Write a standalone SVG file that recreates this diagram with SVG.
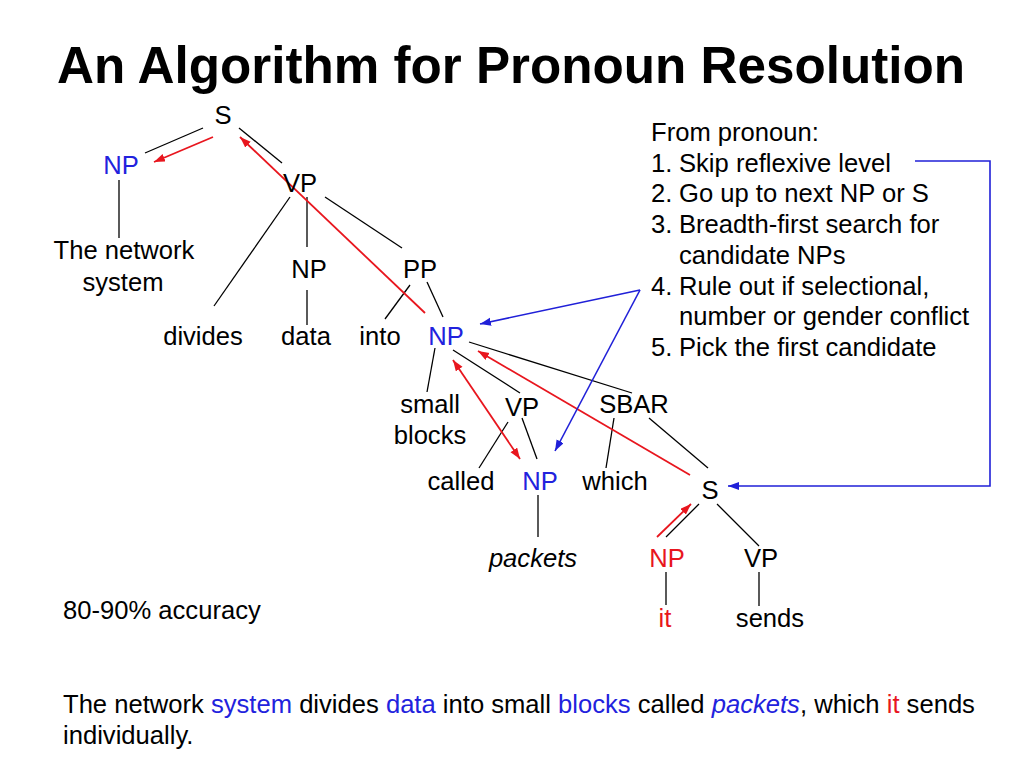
<svg xmlns="http://www.w3.org/2000/svg" width="1024" height="768" viewBox="0 0 1024 768">
<defs>
<style>
text{font-family:"Liberation Sans",Arial,Helvetica,sans-serif;font-size:25.6px;fill:#000}
.c{text-anchor:middle}
.title{font-size:51.2px;font-weight:bold}
.b{fill:#2222dd}
.r{fill:#e8161e}
.i{font-style:italic}
.e{stroke:#000;stroke-width:1.3;fill:none}
.ra{stroke:#e8161e;stroke-width:1.8;fill:none;marker-end:url(#mr)}
.ba{stroke:#2020d8;stroke-width:1.6;fill:none;marker-end:url(#mb)}
</style>
<marker id="mr" markerUnits="userSpaceOnUse" markerWidth="12" markerHeight="10" refX="11" refY="4" orient="auto-start-reverse"><path d="M0,0 L11,4 L0,8 z" fill="#e8161e"/></marker>
<marker id="mb" markerUnits="userSpaceOnUse" markerWidth="12" markerHeight="10" refX="11" refY="4" orient="auto-start-reverse"><path d="M0,0 L11,4 L0,8 z" fill="#2020d8"/></marker>
</defs>
<rect width="1024" height="768" fill="#fff"/>
<text id="title" class="title" x="57" y="83">An Algorithm for Pronoun Resolution</text>

<g id="connectors">
<line class="e" x1="145" y1="153" x2="203" y2="128"/>
<line class="e" x1="239" y1="128" x2="282" y2="163"/>
<line class="e" x1="119" y1="180" x2="119" y2="238"/>
<line class="e" x1="290" y1="197" x2="214" y2="306"/>
<line class="e" x1="307" y1="197" x2="307" y2="247"/>
<line class="e" x1="325" y1="197" x2="402" y2="248"/>
<line class="e" x1="307" y1="290" x2="307" y2="325"/>
<line class="e" x1="410" y1="285" x2="385" y2="319"/>
<line class="e" x1="427" y1="282" x2="443" y2="317"/>
<line class="e" x1="435" y1="348" x2="427" y2="392"/>
<line class="e" x1="453" y1="350" x2="520" y2="393"/>
<line class="e" x1="469" y1="342" x2="632" y2="393"/>
<line class="e" x1="508" y1="422" x2="479" y2="468"/>
<line class="e" x1="522" y1="418" x2="537" y2="459"/>
<line class="e" x1="614" y1="418" x2="606" y2="468"/>
<line class="e" x1="649" y1="418" x2="708" y2="468"/>
<line class="e" x1="538" y1="495" x2="538" y2="537"/>
<line class="e" x1="699" y1="504" x2="666" y2="537"/>
<line class="e" x1="717" y1="504" x2="759" y2="546"/>
<line class="e" x1="666" y1="572" x2="666" y2="605"/>
<line class="e" x1="759" y1="572" x2="759" y2="606"/>

<line class="ra" x1="213" y1="137" x2="154" y2="162"/>
<line class="ra" x1="425" y1="313" x2="240" y2="137"/>
<line class="ra" x1="453" y1="360" x2="520" y2="459" marker-start="url(#mr)"/>
<line class="ra" x1="690" y1="475" x2="478" y2="351"/>
<line class="ra" x1="657" y1="537" x2="691" y2="504"/>

<line class="ba" x1="640" y1="290" x2="480" y2="324"/>
<line class="ba" x1="640" y1="290" x2="555" y2="451"/>
<polyline class="ba" points="915,161 990,161 990,486 728,486"/>
</g>

<g id="n-S"><text class="c" x="223" y="124">S</text></g>
<g id="n-NP1"><text class="c b" x="121" y="174">NP</text></g>
<g id="n-network"><text class="c" x="124" y="259">The network</text><text class="c" x="123" y="291">system</text></g>
<g id="n-VP1"><text class="c" x="300" y="192">VP</text></g>
<g id="n-NP2"><text class="c" x="309" y="278">NP</text></g>
<g id="n-PP"><text class="c" x="420" y="278">PP</text></g>
<g id="n-divides"><text class="c" x="203" y="345">divides</text></g>
<g id="n-data"><text class="c" x="306" y="345">data</text></g>
<g id="n-into"><text class="c" x="380" y="345">into</text></g>
<g id="n-NP3"><text class="c b" x="446" y="345">NP</text></g>
<g id="n-smallblocks"><text class="c" x="430" y="413">small</text><text class="c" x="430" y="444">blocks</text></g>
<g id="n-VP2"><text class="c" x="522" y="416">VP</text></g>
<g id="n-SBAR"><text class="c" x="634" y="413">SBAR</text></g>
<g id="n-called"><text class="c" x="461" y="490">called</text></g>
<g id="n-NP4"><text class="c b" x="540" y="490">NP</text></g>
<g id="n-which"><text class="c" x="615" y="490">which</text></g>
<g id="n-S2"><text class="c" x="710" y="499">S</text></g>
<g id="n-packets"><text class="c i" x="533" y="567">packets</text></g>
<g id="n-NP5"><text class="c r" x="667" y="567">NP</text></g>
<g id="n-VP3"><text class="c" x="761" y="567">VP</text></g>
<g id="n-it"><text class="c r" x="665" y="627">it</text></g>
<g id="n-sends"><text class="c" x="770" y="627">sends</text></g>

<g id="steps">
<text x="651" y="141">From pronoun:</text>
<text x="651" y="172">1.</text><text x="679" y="172">Skip reflexive level</text>
<text x="651" y="202">2.</text><text x="679" y="202">Go up to next NP or S</text>
<text x="651" y="233">3.</text><text x="679" y="233">Breadth-first search for</text>
<text x="679" y="264">candidate NPs</text>
<text x="651" y="295">4.</text><text x="679" y="295">Rule out if selectional,</text>
<text x="679" y="325">number or gender conflict</text>
<text x="651" y="356">5.</text><text x="679" y="356">Pick the first candidate</text>
</g>

<g id="accuracy"><text x="63" y="619">80-90% accuracy</text></g>
<g id="sentence">
<text x="63" y="713">The network <tspan class="b">system</tspan> divides <tspan class="b">data</tspan> into small <tspan class="b">blocks</tspan> called <tspan class="b i">packets</tspan>, which <tspan class="r">it</tspan> sends</text>
<text x="63" y="744">individually.</text>
</g>
</svg>
